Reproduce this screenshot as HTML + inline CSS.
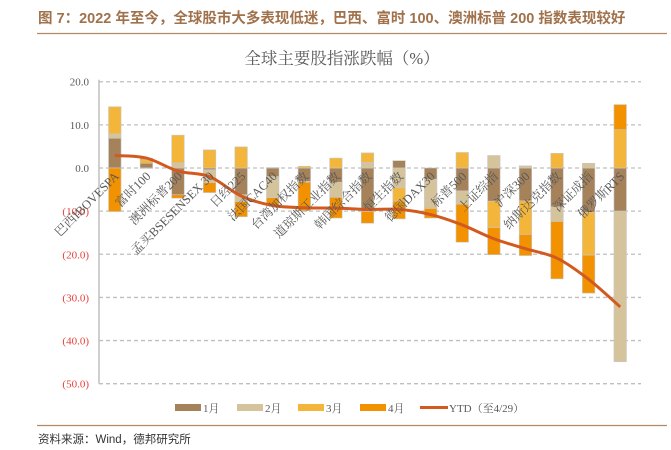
<!DOCTYPE html>
<html><head><meta charset="utf-8">
<style>
body{margin:0;background:#fff;}
svg{display:block;}
</style></head>
<body>
<svg id="chart" width="671" height="450" xmlns="http://www.w3.org/2000/svg">
<text x="38" y="23" font-family="'Liberation Sans','Noto Sans CJK SC',sans-serif" font-size="14.5" font-weight="bold" fill="#A0714A">图 7：2022 年至今，全球股市大多表现低迷，巴西、富时 100、澳洲标普 200 指数表现较好</text>
<line x1="37" y1="33.5" x2="667" y2="33.5" stroke="#B08A68" stroke-width="1.2"/>
<text x="342" y="64" text-anchor="middle" font-family="'Liberation Serif','Noto Serif CJK SC',serif" font-size="16.5" fill="#595959">全球主要股指涨跌幅（%）</text>
<g id="grid"></g>
<g id="bars"></g>
<g id="line"></g>
<g id="labels"></g>
<g id="legend" font-family="'Liberation Serif','Noto Serif CJK SC',serif" font-size="11" fill="#595959">
<rect x="175" y="404" width="26" height="7" fill="#A5825A"/>
<text x="203" y="412">1月</text>
<rect x="237" y="404" width="26" height="7" fill="#D5C39B"/>
<text x="265" y="412">2月</text>
<rect x="298" y="404" width="26" height="7" fill="#F3B63A"/>
<text x="326" y="412">3月</text>
<rect x="360" y="404" width="26" height="7" fill="#F39200"/>
<text x="388" y="412">4月</text>
<line x1="420" y1="407.5" x2="448" y2="407.5" stroke="#D35A1E" stroke-width="3"/>
<text x="449" y="412">YTD（至4/29）</text>
</g>
<line x1="37" y1="425.5" x2="667" y2="425.5" stroke="#B08A68" stroke-width="1.2"/>
<text x="38" y="443" font-family="'Liberation Sans','Noto Sans CJK SC',sans-serif" font-size="11.5" fill="#333">资料来源：Wind，德邦研究所</text>
</svg>
<script>
const categories=["巴西IBOVESPA","富时100","澳洲标普200","孟买BSESENSEX 30","日经225","法国CAC40","台湾加权指数","道琼斯工业指数","韩国综合指数","恒生指数","德国DAX30","标普500","上证综指","沪深300","纳斯达克指数","深证成指","俄罗斯RTS"];
const jan=[6.9,1.1,-6.2,-0.4,-6.2,-2.0,-3.1,-3.3,-10.1,1.7,-2.6,-5.3,-7.7,-7.6,-9.0,-10.3,-10.0];
const feb=[1.0,-0.1,1.2,-3.0,-1.6,-4.9,-0.2,-3.5,1.3,-4.6,-6.5,-3.1,2.9,0.5,-3.4,1.1,-34.9];
const mar=[6.3,0.8,6.4,4.2,4.9,0.1,0.4,2.3,2.2,-3.1,-0.3,3.6,-6.1,-7.8,3.4,-9.9,8.9];
const apr=[-10.1,0.4,-0.8,-2.3,-3.5,-1.8,-6.6,-4.8,-2.7,-4.1,-2.2,-8.8,-6.3,-4.9,-13.3,-8.8,5.8];
const ytd=[2.9,2.3,-0.7,-2.0,-6.5,-8.7,-9.2,-9.3,-9.6,-9.6,-10.8,-13.2,-16.4,-18.7,-20.9,-25.8,-32.2];
const yTicks=[20,10,0,-10,-20,-30,-40,-50];
const seriesNames=["jan","feb","mar","apr"];
const series=[jan,feb,mar,apr];
const colors=["#A5825A","#D5C39B","#F3B63A","#F39200"];
const NS="http://www.w3.org/2000/svg";
const X0=99,X1=636,Y0=168,PX=4.314;
const band=(X1-X0)/categories.length;
function xc(i){return X0+band*(i+0.5);}
function y(v){return Y0-v*PX;}
function mk(tag,attrs,parent){const e=document.createElementNS(NS,tag);for(const k in attrs)e.setAttribute(k,attrs[k]);parent.appendChild(e);return e;}
const grid=document.getElementById('grid');
yTicks.forEach(t=>{
  const l=mk('line',{x1:X0,x2:641,y1:y(t),y2:y(t),stroke:'#BFBFBF','stroke-width':1.3,'stroke-dasharray':'4,3'},grid);
  
  
  const s=t<0?'('+Math.abs(t).toFixed(1)+')':t.toFixed(1);
  const tx=mk('text',{x:89,y:y(t)+4,'text-anchor':'end','font-family':"'Liberation Serif',serif",'font-size':11,fill:t<0?'#E8403A':'#595959'},grid);
  tx.textContent=s;
  
  
});
const ax=mk('line',{x1:X0,x2:X0,y1:y(20)-2,y2:y(-50),stroke:'#BFBFBF','stroke-width':1.5},grid);


const bars=document.getElementById('bars');
const bw=12.5;
categories.forEach((c,i)=>{
  let pos=0,neg=0;
  series.forEach((s,k)=>{
    const v=s[i];let top,bot;
    if(v>=0){top=pos+v;bot=pos;pos=top;}else{top=neg;bot=neg+v;neg=bot;}
    const r=mk('rect',{x:xc(i)-bw/2,y:y(top),width:bw,height:Math.max(0,y(bot)-y(top)),fill:colors[k],stroke:'#C8C8C8','stroke-width':0.6},bars);
    
    
  });
});
const pts=ytd.map((v,i)=>[xc(i),y(v)]);
let d='M'+pts[0][0]+','+pts[0][1];
for(let i=0;i<pts.length-1;i++){
  const p0=pts[Math.max(0,i-1)],p1=pts[i],p2=pts[i+1],p3=pts[Math.min(pts.length-1,i+2)];
  const t=1/6;
  d+=' C'+(p1[0]+(p2[0]-p0[0])*t)+','+(p1[1]+(p2[1]-p0[1])*t)+' '+(p2[0]-(p3[0]-p1[0])*t)+','+(p2[1]-(p3[1]-p1[1])*t)+' '+p2[0]+','+p2[1];
}
const ln=mk('path',{d:d,fill:'none',stroke:'#D35A1E','stroke-width':3,'stroke-linejoin':'round'},document.getElementById('line'));


const labels=document.getElementById('labels');
categories.forEach((c,i)=>{
  const ax0=xc(i)+5,ay0=Y0+9;
  const t=mk('text',{x:ax0,y:ay0,'text-anchor':'end',transform:'rotate(-45 '+ax0+' '+ay0+')','font-family':"'Liberation Serif','Noto Serif CJK SC',serif",'font-size':12.5,fill:'#595959'},labels);
  t.textContent=c;
  
  
});
</script>
</body></html>
